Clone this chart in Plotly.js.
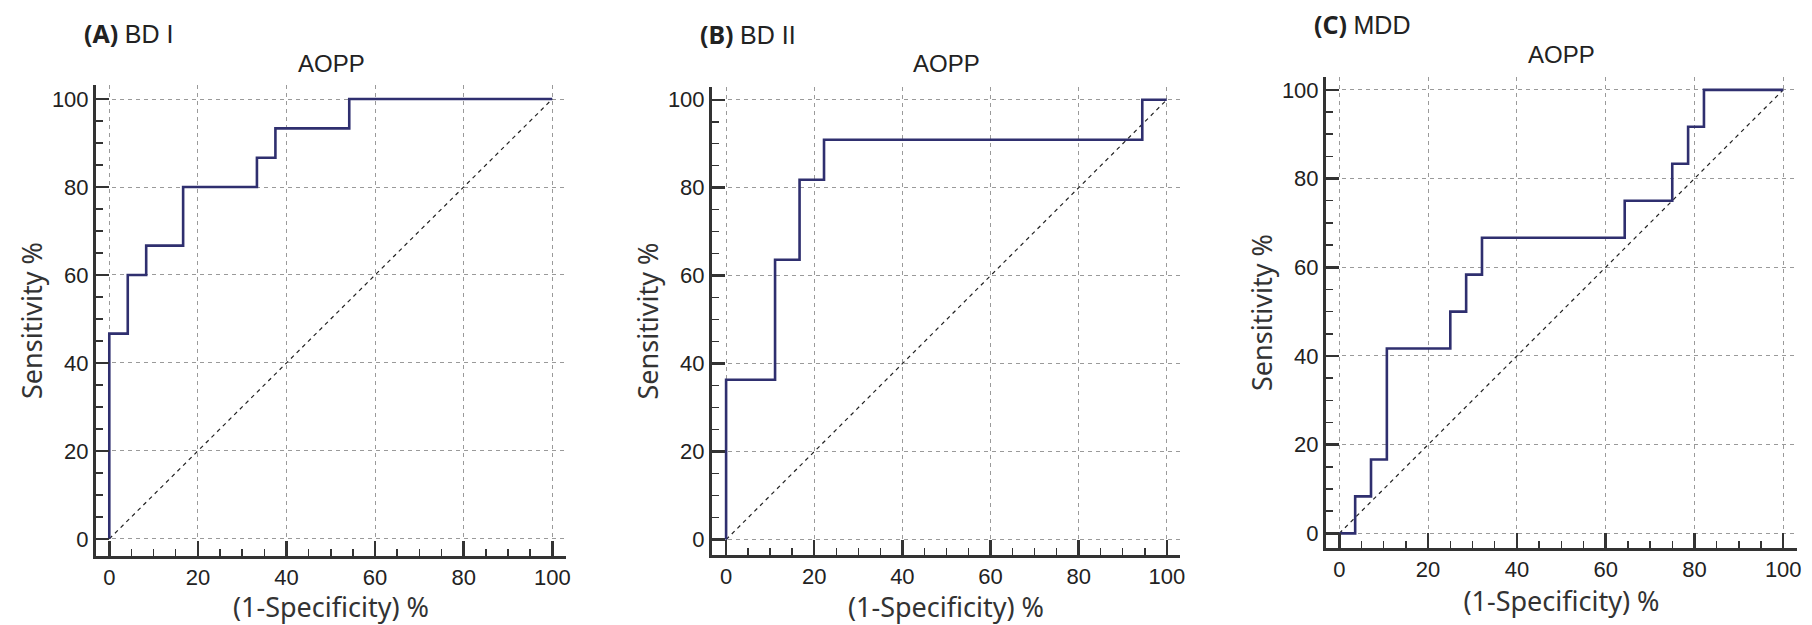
<!DOCTYPE html>
<html>
<head>
<meta charset="utf-8">
<script src="https://cdn.plot.ly/plotly-3.0.1.min.js"></script>
<style>html,body{margin:0;padding:0;background:#fff;}#chart{width:1812px;height:625px;}</style>
</head>
<body>
<div id="chart"></div>
<script>
// ---- data ----
const panelLabels = ["(A)", "(B)", "(C)"];
const panelGroups = ["BD I", "BD II", "MDD"];
const panelTitles = ["AOPP", "AOPP", "AOPP"];
const xTitle = "(1-Specificity) %";
const yTitle = "Sensitivity %";
const tickValues = [0, 20, 40, 60, 80, 100];

// ROC step points (1-specificity %, sensitivity %), drawn with horizontal-then-vertical steps
const bd1FPR = [0, 0, 4.17, 8.33, 16.67, 33.33, 37.5, 54.17, 100];
const bd1TPR = [0, 46.67, 60, 66.67, 80, 86.67, 93.33, 100, 100];
const bd2FPR = [0, 0, 11.11, 16.67, 22.22, 94.44, 100];
const bd2TPR = [0, 36.36, 63.64, 81.82, 90.91, 100, 100];
const mddFPR = [0, 3.57, 7.14, 10.71, 25, 28.57, 32.14, 64.29, 75, 78.57, 82.14, 100];
const mddTPR = [0, 8.33, 16.67, 41.67, 50, 58.33, 66.67, 75, 83.33, 91.67, 100, 100];
const refLine = [0, 100];

// ---- layout geometry (pixels) ----
const W = 1812, H = 625;
const boxes = [
  {l: 96, r: 566, t: 85, b: 556, xr: [-3.0, 103.1], yr: [-3.9, 103.2], titleY: 63, labelY: 33},
  {l: 712, r: 1180, t: 87, b: 555, xr: [-3.2, 103.0], yr: [-3.5, 102.9], titleY: 63, labelY: 34},
  {l: 1326, r: 1797, t: 77, b: 548, xr: [-3.0, 103.1], yr: [-3.3, 102.9], titleY: 54, labelY: 24}
];
const series = [[bd1FPR, bd1TPR], [bd2FPR, bd2TPR], [mddFPR, mddTPR]];

const sans = "Liberation Sans, Arial, sans-serif";
const tickFont = {family: sans, size: 22, color: "#222"};
const titleFont = {family: "Noto Sans, DejaVu Sans, sans-serif", size: 27, color: "#333"};

const traces = [];
const layout = {
  width: W, height: H,
  margin: {l: 0, r: 0, t: 0, b: 0},
  paper_bgcolor: "#fff", plot_bgcolor: "#fff",
  showlegend: false,
  annotations: []
};

boxes.forEach((bx, i) => {
  const n = i === 0 ? "" : String(i + 1);
  const xa = "x" + n, ya = "y" + n;
  traces.push({
    x: refLine, y: refLine, xaxis: xa, yaxis: ya, type: "scatter", mode: "lines",
    line: {color: "#222", width: 1.2, dash: "4px,4px"}, hoverinfo: "skip"
  });
  traces.push({
    x: series[i][0], y: series[i][1], xaxis: xa, yaxis: ya, type: "scatter", mode: "lines",
    line: {color: "#2f2f6f", width: 2.6, shape: "hv"}
  });
  const common = {
    showline: true, linecolor: "#333", linewidth: 3,
    showgrid: true, gridcolor: "#9a9a9a", gridwidth: 1, griddash: "4px,4px",
    zeroline: false, ticks: "inside", tickwidth: 2.5, tickcolor: "#333",
    tickvals: tickValues, ticktext: tickValues.map(String), tickfont: tickFont,
    fixedrange: true, automargin: false
  };
  layout["xaxis" + n] = Object.assign({}, common, {
    domain: [bx.l / W, bx.r / W], range: bx.xr, anchor: ya, ticklen: 15,
    minor: {dtick: 5, ticks: "inside", ticklen: 7, tickwidth: 1.5, tickcolor: "#333", showgrid: false},
    title: {text: xTitle, font: titleFont, standoff: 7}
  });
  layout["yaxis" + n] = Object.assign({}, common, {
    domain: [1 - bx.b / H, 1 - bx.t / H], range: bx.yr, anchor: xa, ticklen: 13,
    minor: {dtick: 5, ticks: "inside", ticklen: 7, tickwidth: 1.5, tickcolor: "#333", showgrid: false},
    title: {text: yTitle, font: titleFont, standoff: 2}
  });
  const xmid = (bx.l + bx.r) / 2 / W;
  layout.annotations.push({
    xref: "paper", yref: "paper", x: xmid, y: 1 - bx.titleY / H,
    text: panelTitles[i], showarrow: false, xanchor: "center", yanchor: "middle",
    font: {family: sans, size: 24, color: "#222"}
  });
  layout.annotations.push({
    xref: "paper", yref: "paper", x: (bx.l - 14) / W, y: 1 - bx.labelY / H,
    text: "<b>" + panelLabels[i] + "</b> <span style='font-family:" + sans + "'>" + panelGroups[i] + "</span>",
    showarrow: false, xanchor: "left", yanchor: "middle",
    font: {family: "Noto Sans, DejaVu Sans, sans-serif", size: 25, color: "#222"}
  });
});

Plotly.newPlot("chart", traces, layout, {displayModeBar: false, staticPlot: true});
</script>
</body>
</html>
